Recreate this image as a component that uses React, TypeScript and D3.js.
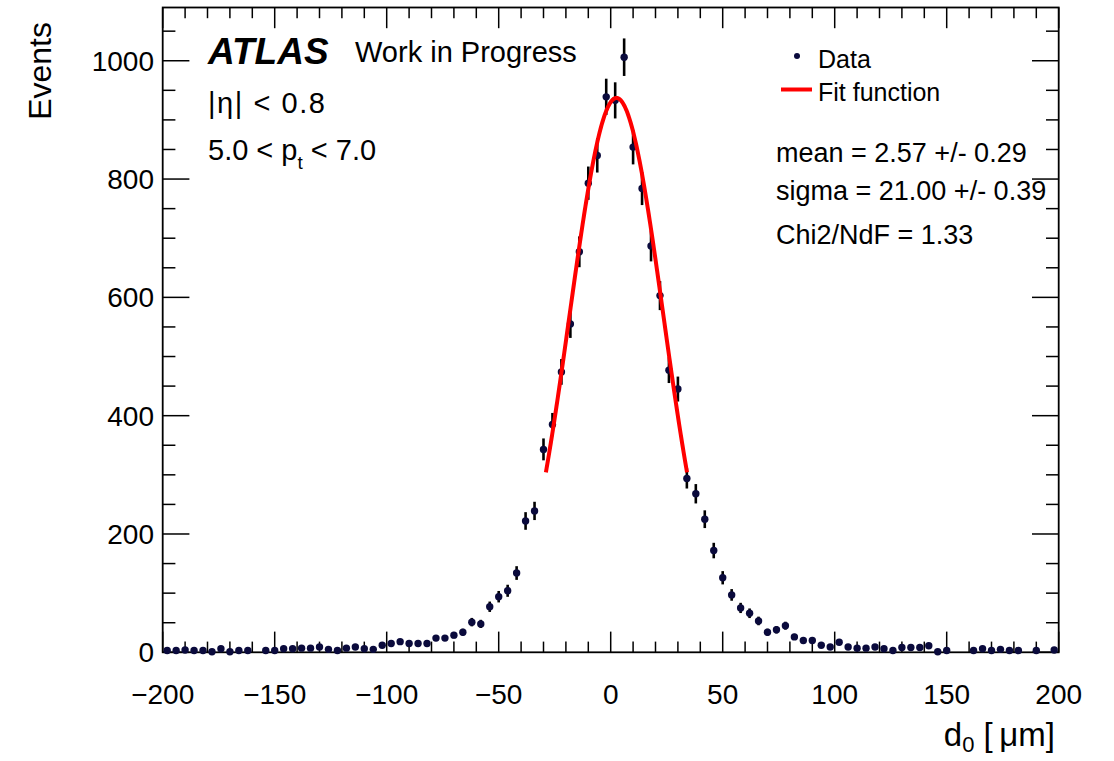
import React from "react";
import * as d3 from "d3";

// ---- data ----
const binLow = -200;
const binWidth = 4;
// bin contents from d0 = -198 ... 198 (bin centres), null = empty bin
const counts: (number | null)[] = [
  3, 3, 4, 3, 3, 1, 6, 1, 3, 3,
  null, 3, 3, 6, 6, 7, 7, 9, 5, 3,
  7, 9, 6, 5, 12, 15, 18, 15, 15, 15,
  24, 24, 29, 34, 51, 48, 77, 94, 104, 134,
  222, 239, 343, 385, 474, 555, 677, 793, 840, 939,
  933, 1006, 854, 784, 687, 603, 477, 445, 294, 268,
  225, 172, 126, 97, 75, 66, 53, 34, 38, 45,
  26, 20, 20, 12, 9, 17, 9, 7, 7, 9,
  6, 3, 8, 8, 8, 11, 1, 3, null, null,
  3, 6, 3, 5, 3, 3, null, 3, null, 4,
];
const fitAmplitude = 937;
const fitMean = 2.57;
const fitSigma = 21.0;
const fitRangeSigmas = 1.5;

const xTickValues = [-200, -150, -100, -50, 0, 50, 100, 150, 200];
const yTickValues = [0, 200, 400, 600, 800, 1000];
const statLines = ["mean = 2.57 +/- 0.29", "sigma = 21.00 +/- 0.39", "Chi2/NdF = 1.33"];

const FONT = "'Liberation Sans', Arial, Helvetica, sans-serif";

export default function App() {
  const L = 162.7, R = 1058.7, T = 7.5, B = 652.3;
  const x = d3.scaleLinear().domain([-200, 200]).range([L, R]);
  const y = d3.scaleLinear().domain([0, 1090]).range([B, T]);

  const points = counts
    .map((v, i) => ({ c: binLow + binWidth * (i + 0.5), v }))
    .filter((p) => p.v !== null) as { c: number; v: number }[];

  const xMinor = d3.range(-200, 201, 10);
  const yMinor = d3.range(0, 1090, 50);

  const f0 = fitMean - fitRangeSigmas * fitSigma;
  const f1 = fitMean + fitRangeSigmas * fitSigma;
  const fitPts = d3.range(0, 201).map((k) => {
    const xv = f0 + ((f1 - f0) * k) / 200;
    return [xv, fitAmplitude * Math.exp(-0.5 * ((xv - fitMean) / fitSigma) ** 2)] as [number, number];
  });
  const line = d3.line<[number, number]>().x((d) => x(d[0])).y((d) => y(d[1]));

  return (
    <svg width={1114} height={761} style={{ position: "absolute", left: 0, top: 0, background: "#fff" }} fontFamily={FONT}>
      <rect x={0} y={0} width={1114} height={761} fill="#fff" />
      {/* ticks */}
      <g stroke="#000" strokeWidth={1.5}>
        {xMinor.map((t) => {
          const major = xTickValues.includes(t);
          const len = major ? 20.7 : 10.7;
          return (
            <g key={"xt" + t}>
              <line x1={x(t)} x2={x(t)} y1={B} y2={B - len} />
              <line x1={x(t)} x2={x(t)} y1={T} y2={T + len} />
            </g>
          );
        })}
        {yMinor.map((t) => {
          const major = yTickValues.includes(t);
          const len = major ? 26.7 : 12.7;
          return (
            <g key={"yt" + t}>
              <line x1={L} x2={L + len} y1={y(t)} y2={y(t)} />
              <line x1={R} x2={R - len} y1={y(t)} y2={y(t)} />
            </g>
          );
        })}
      </g>
      <rect x={L} y={T} width={R - L} height={B - T} fill="none" stroke="#000" strokeWidth={1.8} />

      {/* tick labels */}
      <g fontSize={28} fill="#000">
        {xTickValues.map((t) => (
          <text key={"xl" + t} x={x(t)} y={704} textAnchor="middle">
            {t < 0 ? "\u2212" + Math.abs(t) : String(t)}
          </text>
        ))}
        {yTickValues.map((t) => (
          <text key={"yl" + t} x={154} y={y(t)} dy="0.36em" textAnchor="end">
            {t}
          </text>
        ))}
      </g>

      {/* axis titles */}
      <text transform="translate(51,22) rotate(-90)" textAnchor="end" fontSize={32}>Events</text>
      <text x={1055} y={746} textAnchor="end" fontSize={33}>
        d<tspan fontSize={22} dy={6}>0</tspan>
        <tspan dy={-6}>{" [\u2009\u03bcm]"}</tspan>
      </text>

      {/* error bars */}
      <g stroke="#000" strokeWidth={2.6}>
        {points.map((p) => (
          <line key={"e" + p.c} x1={x(p.c)} x2={x(p.c)} y1={y(p.v + Math.sqrt(p.v))} y2={y(Math.max(0, p.v - Math.sqrt(p.v)))} />
        ))}
      </g>
      {/* markers */}
      <g fill="#0a0a3c">
        {points.map((p) => (
          <circle key={"m" + p.c} cx={x(p.c)} cy={y(p.v)} r={3.7} />
        ))}
      </g>
      {/* fit */}
      <path d={line(fitPts) || ""} fill="none" stroke="#ff0000" strokeWidth={4} />

      {/* labels */}
      <text x={208} y={64} fontSize={37} fontWeight="bold" fontStyle="italic">ATLAS</text>
      <text x={355} y={62} fontSize={29}>Work in Progress</text>
      <text x={208} y={113} fontSize={29} textLength={117} lengthAdjust="spacing">|{"\u03b7"}| &lt; 0.8</text>
      <text x={208} y={160} fontSize={29}>
        5.0 &lt; p<tspan fontSize={19} dy={9}>t</tspan><tspan dy={-9}> &lt; 7.0</tspan>
      </text>

      {/* legend */}
      <circle cx={797} cy={56} r={3} fill="#0a0a3c" />
      <text x={818} y={68} fontSize={25}>Data</text>
      <line x1={781} x2={812} y1={89.5} y2={89.5} stroke="#ff0000" strokeWidth={4} />
      <text x={818} y={101} fontSize={25}>Fit function</text>

      {statLines.map((s, i) => (
        <text key={s} x={776} y={[162, 200, 244][i]} fontSize={27}>{s}</text>
      ))}
    </svg>
  );
}
